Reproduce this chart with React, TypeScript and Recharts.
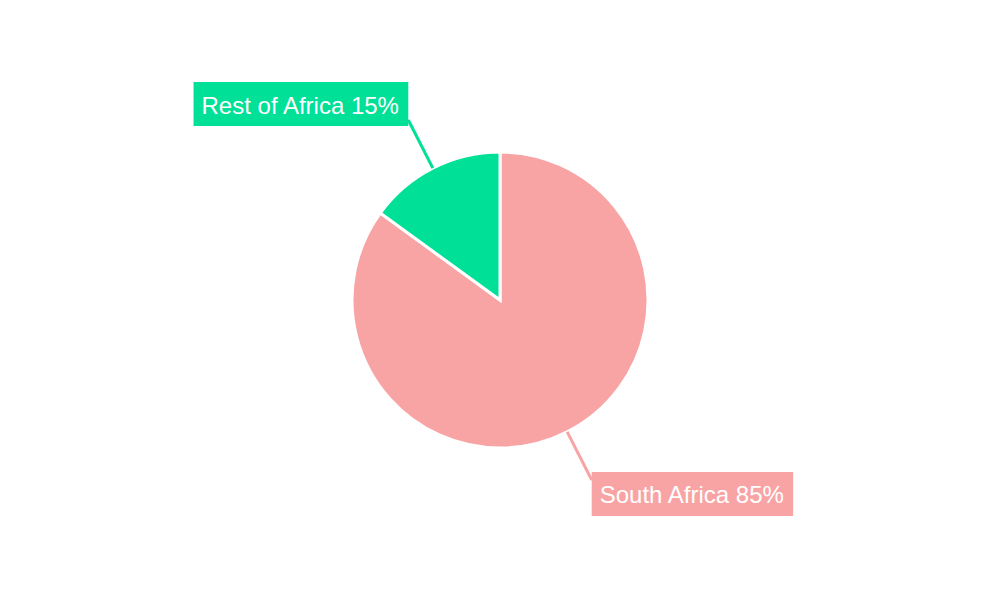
import React from 'react';
import { PieChart, Pie, Cell } from 'recharts';

const categories = ['South Africa', 'Rest of Africa'];
const shares = [85, 15];
const colors = ['#F9A4A4', '#00E096'];

const data = categories.map((name, i) => ({ name, value: shares[i] }));

const FONT_SIZE = 24;
const FONT_FAMILY = '"Liberation Sans", Arial, sans-serif';
const FONT = `${FONT_SIZE}px ${FONT_FAMILY}`;

function measure(text: string): number {
  try {
    const c = document.createElement('canvas');
    const ctx = c.getContext('2d');
    if (ctx) {
      ctx.font = FONT;
      return ctx.measureText(text).width;
    }
  } catch (e) {}
  return text.length * 11;
}

const RADIAN = Math.PI / 180;

const renderLabel = (props: any) => {
  const { cx, cy, midAngle, outerRadius, index, payload } = props;
  const name = payload?.name ?? categories[index];
  const value = payload?.value ?? shares[index];
  const text = `${name} ${value}%`;
  const color = colors[index % colors.length];
  const cos = Math.cos(-midAngle * RADIAN);
  const sin = Math.sin(-midAngle * RADIAN);
  const sx = cx + outerRadius * cos;
  const sy = cy + outerRadius * sin;
  const ex = cx + (outerRadius + 54) * cos;
  const ey = cy + (outerRadius + 54) * sin;
  const pad = 8;
  const w = measure(text) + pad * 2;
  const h = 44;
  const right = cos >= 0;
  const rx = right ? ex : ex - w;
  const ry = sin >= 0 ? ey - 8 : ey - 38;
  return (
    <g>
      <line x1={sx} y1={sy} x2={ex} y2={ey} stroke={color} strokeWidth={3} />
      <rect x={rx} y={ry} width={w} height={h} fill={color} />
      <text
        x={rx + pad}
        y={ry + h / 2 + 1}
        fill="#ffffff"
        dominantBaseline="central"
        textAnchor="start"
        fontSize={FONT_SIZE}
        fontFamily={FONT_FAMILY}
      >
        {text}
      </text>
    </g>
  );
};

export default function App() {
  return (
    <div style={{ position: 'absolute', left: 0, top: 0, width: 1000, height: 600, background: '#fff' }}>
      <PieChart width={1000} height={600} margin={{ top: 0, right: 0, bottom: 0, left: 0 }}>
        <Pie
          data={data}
          dataKey="value"
          nameKey="name"
          cx={500}
          cy={300}
          outerRadius={148}
          startAngle={90}
          endAngle={-270}
          stroke="#ffffff"
          strokeWidth={3}
          label={renderLabel}
          labelLine={false}
          isAnimationActive={false}
        >
          {data.map((d, i) => (
            <Cell key={d.name} fill={colors[i % colors.length]} />
          ))}
        </Pie>
      </PieChart>
    </div>
  );
}
